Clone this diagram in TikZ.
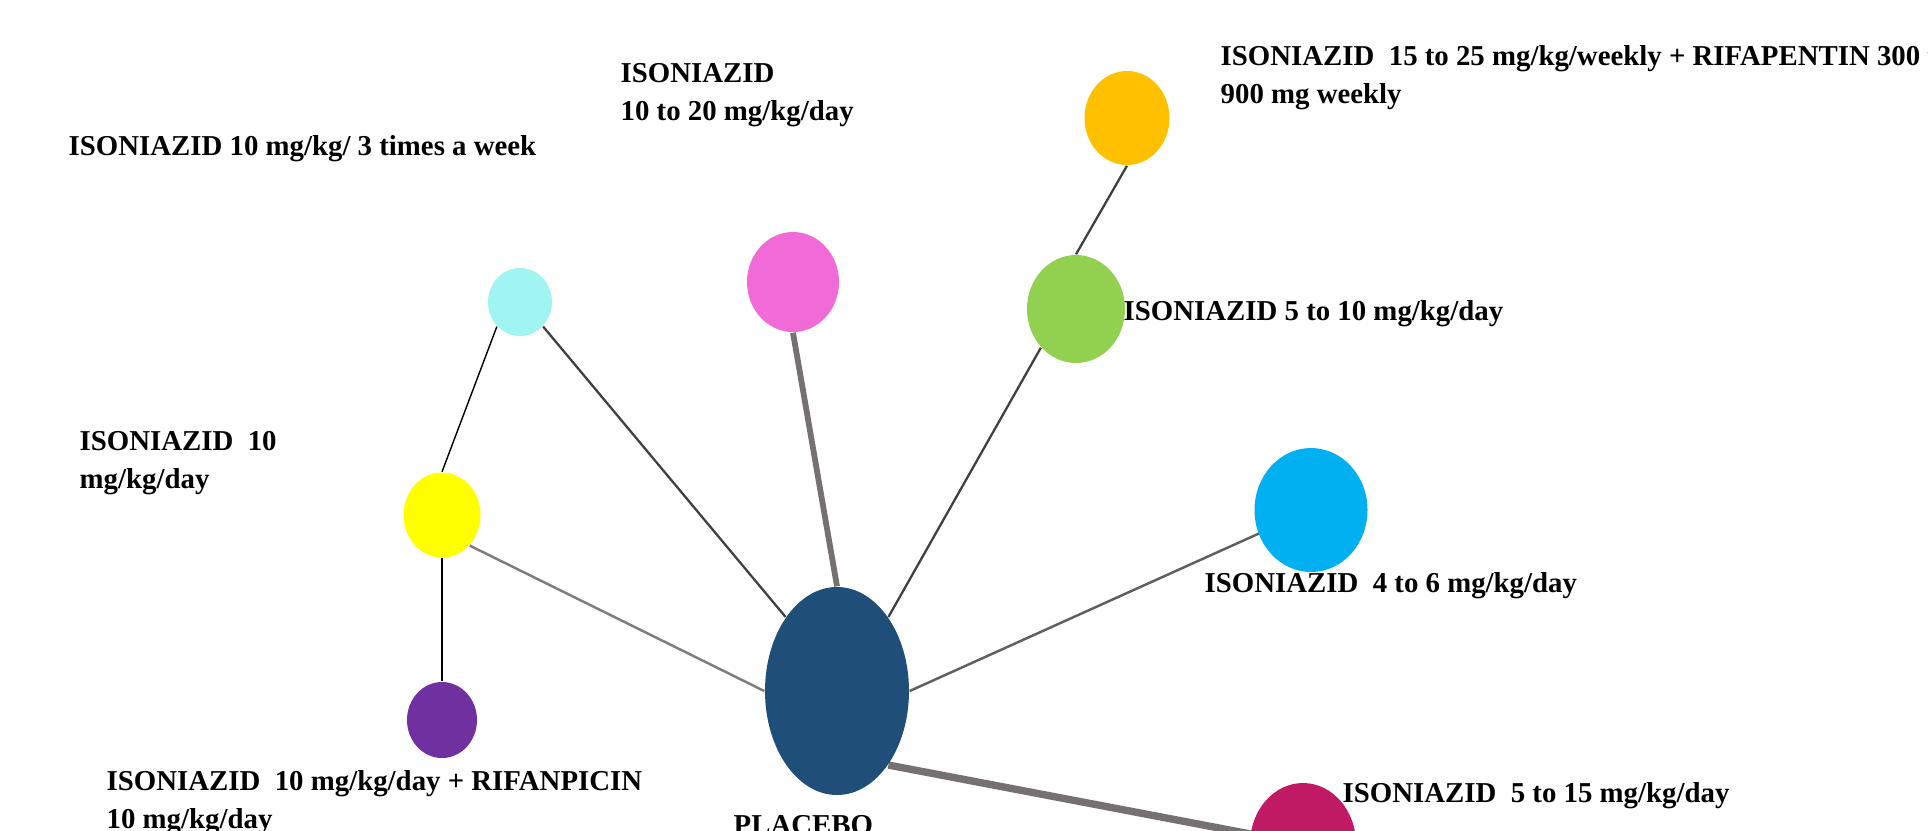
\documentclass[tikz,border=0pt]{standalone}
\usepackage{fontspec}
\setmainfont{Liberation Serif}
\usepackage{xcolor}
\usetikzlibrary{positioning,shapes.geometric,backgrounds}
\definecolor{trtcyan}{RGB}{160,244,242}
\definecolor{trtpink}{RGB}{240,106,216}
\definecolor{trtorange}{RGB}{255,192,0}
\definecolor{trtgreen}{RGB}{146,208,80}
\definecolor{trtyellow}{RGB}{255,255,0}
\definecolor{trtpurple}{RGB}{112,48,160}
\definecolor{trtnavy}{RGB}{31,78,121}
\definecolor{trtblue}{RGB}{0,176,240}
\definecolor{trtmagenta}{RGB}{192,26,100}
\definecolor{netdark}{RGB}{64,64,64}
\definecolor{netmid}{RGB}{95,95,95}
\definecolor{netlight}{RGB}{125,125,125}
\definecolor{netgray}{RGB}{118,113,113}

\begin{document}
\begin{tikzpicture}[
  every node/.style={font=\fontsize{8.2}{10.8}\selectfont\bfseries},
  trt/.style={ellipse, draw=none, inner sep=0pt},
  lbl/.style={anchor=base west, inner sep=0pt, align=left},
  lnthin/.style={line width=0.4pt, color=black},
  lndark/.style={line width=0.65pt, color=netdark},
  lnmid/.style={line width=0.7pt, color=netmid},
  lnlight/.style={line width=0.7pt, color=netlight},
  lnheavy/.style={line width=1.65pt, color=netgray},
  lnheavier/.style={line width=2.1pt, color=netgray}
]
  \useasboundingbox (0,0) rectangle (19.28,-8.30);
  \clip (0,0) rectangle (19.28,-8.30);

  % treatments
  \node[trt, fill=trtcyan,    minimum width=0.64cm, minimum height=0.68cm] (c3w)     at (5.20,-3.02)  {};
  \node[trt, fill=trtpink,    minimum width=0.92cm, minimum height=1.00cm] (c1020)   at (7.93,-2.82)  {};
  \node[trt, fill=trtorange,  minimum width=0.85cm, minimum height=0.94cm] (crifap)  at (11.27,-1.18) {};
  \node[trt, fill=trtgreen,   minimum width=0.98cm, minimum height=1.08cm] (c510)    at (10.76,-3.09) {};
  \node[trt, fill=trtyellow,  minimum width=0.77cm, minimum height=0.85cm] (c10)     at (4.42,-5.15)  {};
  \node[trt, fill=trtpurple,  minimum width=0.70cm, minimum height=0.76cm] (crif)    at (4.42,-7.20)  {};
  \node[trt, fill=trtnavy,    minimum width=1.44cm, minimum height=2.08cm] (placebo) at (8.37,-6.91)  {};
  \node[trt, fill=trtblue,    minimum width=1.13cm, minimum height=1.24cm] (c46)     at (13.11,-5.10) {};
  \node[trt, fill=trtmagenta, minimum width=1.06cm, minimum height=1.22cm] (c515)    at (13.03,-8.44) {};

  % comparisons
  \begin{scope}[on background layer]
    \draw[lnthin]    (c3w.south west) -- (c10.north);
    \draw[lnthin]    (c10.south) -- (crif.north);
    \draw[lndark]    (c3w.south east) -- (placebo.north west);
    \draw[lndark]    (crifap.south) -- (c510.north);
    \draw[lndark]    (c510.south west) -- (placebo.north east);
    \draw[lnlight]   (c10.south east) -- (placebo.west);
    \draw[lnmid]     (placebo.east) -- (c46.center);
    \draw[lnheavy]   (c1020.south) -- (placebo.north);
    \draw[lnheavier] (placebo.south east) -- (c515.center);
  \end{scope}

  % labels
  \node[lbl] (l3w)      at (0.68,-1.55)  {ISONIAZID 10 mg/kg/ 3 times a week};
  \node[lbl] (l1020)    at (6.20,-1.20)  {ISONIAZID\\10 to 20 mg/kg/day};
  \node[lbl] (lrifap)   at (12.20,-1.03) {ISONIAZID\ \ 15 to 25 mg/kg/weekly + RIFAPENTIN 300 to\\900 mg weekly};
  \node[lbl] (l510)     at (11.23,-3.20) {ISONIAZID 5 to 10 mg/kg/day};
  \node[lbl] (l10)      at (0.79,-4.88)  {ISONIAZID\ \ 10\\mg/kg/day};
  \node[lbl] (l46)      at (12.04,-5.92) {ISONIAZID\ \ 4 to 6 mg/kg/day};
  \node[lbl] (l515)     at (13.42,-8.02) {ISONIAZID\ \ 5 to 15 mg/kg/day};
  \node[lbl] (lrif)     at (1.06,-8.28)  {ISONIAZID\ \ 10 mg/kg/day + RIFANPICIN\\10 mg/kg/day};
  \node[lbl] (lplacebo) at (7.33,-8.34)  {PLACEBO};
\end{tikzpicture}
\end{document}
